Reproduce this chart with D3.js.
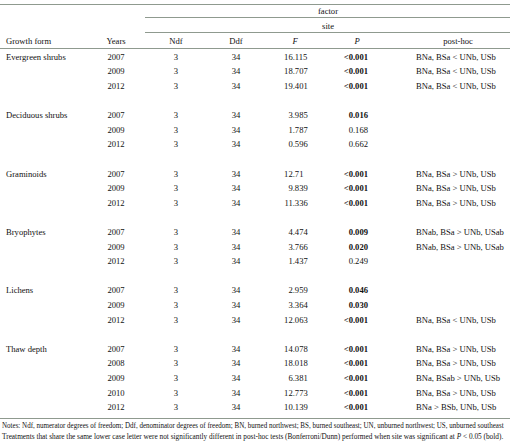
<!DOCTYPE html>
<html><head><meta charset="utf-8">
<script src="https://cdn.jsdelivr.net/npm/d3@7"></script>
<style>
html,body{margin:0;padding:0;background:#fff;}
svg{display:block;}
text{font-family:"Liberation Serif","Times New Roman",serif;fill:#111;}
</style></head>
<body><svg id="t" width="510" height="444"></svg>
<script>
// ---- data ----
const growthForms = ["Evergreen shrubs","Deciduous shrubs","Graminoids","Bryophytes","Lichens","Thaw depth"];
const years = [[2007,2009,2012],[2007,2009,2012],[2007,2009,2012],[2007,2009,2012],[2007,2009,2012],[2007,2008,2009,2010,2012]];
const ndf = [[3,3,3],[3,3,3],[3,3,3],[3,3,3],[3,3,3],[3,3,3,3,3]];
const ddf = [[34,34,34],[34,34,34],[34,34,34],[34,34,34],[34,34,34],[34,34,34,34,34]];
const fValues = [["16.115","18.707","19.401"],["3.985","1.787","0.596"],["12.71","9.839","11.336"],["4.474","3.766","1.437"],["2.959","3.364","12.063"],["14.078","18.018","6.381","12.773","10.139"]];
const pValues = [["<0.001","<0.001","<0.001"],["0.016","0.168","0.662"],["<0.001","<0.001","<0.001"],["0.009","0.020","0.249"],["0.046","0.030","<0.001"],["<0.001","<0.001","<0.001","<0.001","<0.001"]];
const postHoc = [
 ["BNa, BSa < UNb, USb","BNa, BSa < UNb, USb","BNa, BSa < UNb, USb"],
 ["","",""],
 ["BNa, BSa > UNb, USb","BNa, BSa > UNb, USb","BNa, BSa > UNb, USb"],
 ["BNab, BSa > UNb, USab","BNab, BSa > UNb, USab",""],
 ["","","BNa, BSa < UNb, USb"],
 ["BNa, BSa > UNb, USb","BNa, BSa > UNb, USb","BNa, BSab > UNb, USb","BNa, BSa > UNb, USb","BNa > BSb, UNb, USb"]
];
const headers = ["Growth form","Years","Ndf","Ddf","F","P","post-hoc"];
const note1 = "Notes: Ndf, numerator degrees of freedom; Ddf, denominator degrees of freedom; BN, burned northwest; BS, burned southeast; UN, unburned northwest; US, unburned southeast";
const note2a = "Treatments that share the same lower case letter were not significantly different in post-hoc tests (Bonferroni/Dunn) performed when site was significant at ";
const note2b = " < 0.05 (bold).";

// ---- build rows ----
const rows = [];
let idx = 0;
growthForms.forEach((g,gi)=>{
  years[gi].forEach((y,yi)=>{
    rows.push({idx, form: yi===0?g:"", year:y, ndf:ndf[gi][yi], ddf:ddf[gi][yi], F:fValues[gi][yi], P:pValues[gi][yi], ph:postHoc[gi][yi]});
    idx++;
  });
  idx++; // blank spacer row
});

const svg = d3.select("#t");
const fs = 8.6;
const y = d3.scaleLinear().domain([0,24]).range([59.8,410.2]);
const col = {form:6, year:116, ndf:176, ddf:236, Fend:307, Pend:368, ph:416, phHead:458, fHead:295, pHead:357, group:328};

const line = (x1,x2,yy)=>svg.append("line").attr("x1",x1).attr("x2",x2).attr("y1",yy).attr("y2",yy)
  .attr("stroke","#8f9a8f").attr("stroke-width",1.1);
line(0,510,4.5); line(145,510,17.5); line(145,510,32.5); line(0,510,48.5); line(0,510,418.5);

svg.append("text").attr("x",col.group).attr("y",14).attr("text-anchor","middle").attr("font-size",fs).text("factor");
svg.append("text").attr("x",col.group).attr("y",29).attr("text-anchor","middle").attr("font-size",fs).text("site");

const hy = 44.3;
const hdr = [[headers[0],col.form,"start",false],[headers[1],col.year,"middle",false],[headers[2],col.ndf,"middle",false],[headers[3],col.ddf,"middle",false],[headers[4],col.fHead,"middle",true],[headers[5],col.pHead,"middle",true],[headers[6],col.phHead,"middle",false]];
hdr.forEach(h=>svg.append("text").attr("x",h[1]).attr("y",hy).attr("text-anchor",h[2]).attr("font-size",fs).attr("font-style",h[3]?"italic":"normal").text(h[0]));

const g = svg.selectAll("g.row").data(rows).join("g").attr("class","row").attr("transform",d=>`translate(0,${y(d.idx)})`);
g.append("text").attr("x",col.form).attr("font-size",fs).text(d=>d.form);
g.append("text").attr("x",col.year).attr("text-anchor","middle").attr("font-size",fs).text(d=>d.year);
g.append("text").attr("x",col.ndf).attr("text-anchor","middle").attr("font-size",fs).text(d=>d.ndf);
g.append("text").attr("x",col.ddf).attr("text-anchor","middle").attr("font-size",fs).text(d=>d.ddf);
// F decimal-aligned: integer part end-anchored at decimal point, fraction start-anchored
const decX = col.Fend - 14.3;
g.append("text").attr("x",decX).attr("text-anchor","end").attr("font-size",fs).text(d=>d.F.split(".")[0]);
g.append("text").attr("x",decX).attr("text-anchor","start").attr("font-size",fs).text(d=>"."+d.F.split(".")[1]);
g.append("text").attr("x",col.Pend).attr("text-anchor","end").attr("font-size",fs)
  .attr("font-weight",d=>{const v=d.P.startsWith("<")?0:+d.P; return v<0.05?"bold":"normal";}).text(d=>d.P);
g.append("text").attr("x",col.ph).attr("font-size",fs).text(d=>d.ph);

const n1 = svg.append("text").attr("x",0).attr("y",0).attr("font-size",7.3).text(note1);
const w1 = n1.node().getComputedTextLength();
const k = Math.min(1, 502/w1);
n1.attr("transform",`translate(2,428) scale(${k},1)`);
const t2 = svg.append("text").attr("x",2).attr("y",439).attr("font-size",7.3);
t2.append("tspan").text(note2a);
t2.append("tspan").attr("font-style","italic").text("P");
t2.append("tspan").text(note2b);
</script></body></html>
